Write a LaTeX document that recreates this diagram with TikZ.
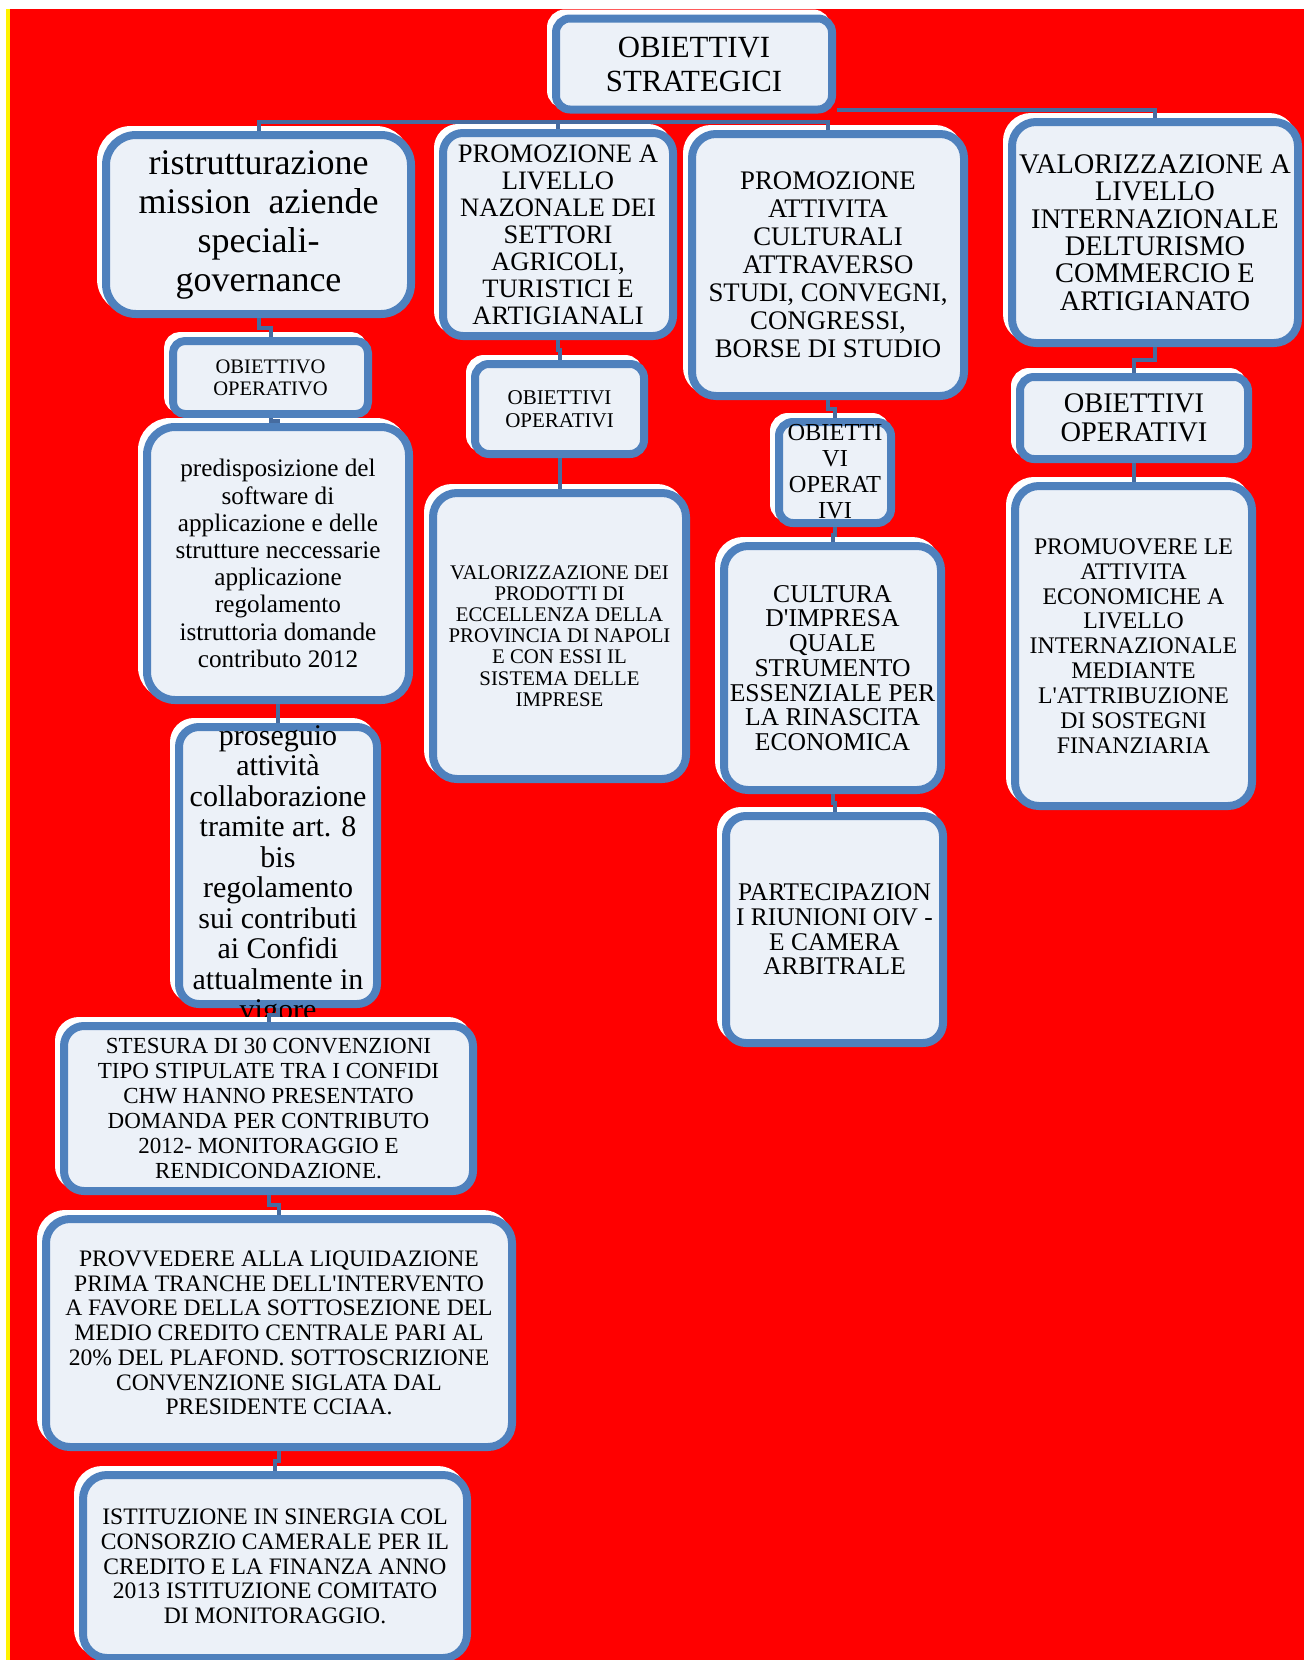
\documentclass[tikz,border=0pt]{standalone}
\usepackage{fontspec}
\setmainfont{Liberation Serif}
\usetikzlibrary{calc}
\definecolor{BoxBlue}{RGB}{79,129,189}
\definecolor{BoxFill}{RGB}{236,241,248}
\definecolor{LinkBlue}{RGB}{70,108,160}

\tikzset{
  obox/.style={draw=BoxBlue,line width=4pt,fill=BoxFill,rounded corners=#1,
    align=center,inner sep=0pt,
    preaction={draw=white,fill=white,line width=4pt,
      transform canvas={shift={(-2.5pt,2.5pt)}}}},
  obox/.default=12pt,
  conn/.style={draw=LinkBlue,line width=2pt},
  elbow/.style={to path={|- ($(\tikztostart)!.5!(\tikztotarget)$) -| (\tikztotarget)}}
}

\begin{document}
\begin{tikzpicture}[x=0.5pt,y=-0.5pt]
  \useasboundingbox (0,0) rectangle (1304,1660);
  \fill[white] (0,0) rectangle (1304,1660);
  \fill[yellow] (6,9) rectangle (10,1660);
  \fill[red] (10,9) rectangle (1304,1660);

  \node[obox=7pt,minimum width=138pt,minimum height=45.5pt,font=\fontsize{15.4}{17}\selectfont]
    (root) at (694,64) {OBIETTIVI\\STRATEGICI};

  % first column
  \node[obox=15pt,minimum width=152.5pt,minimum height=89.5pt,font=\fontsize{18}{19.5}\selectfont]
    (box1) at (258.5,224.5) {ristrutturazione\\mission\ \ aziende\\speciali-\\governance};
  \node[obox=6pt,minimum width=97.5pt,minimum height=36.5pt,font=\fontsize{10.3}{11}\selectfont]
    (op1) at (270.5,377.5) {OBIETTIVO\\OPERATIVO};
  \node[obox=14pt,minimum width=131pt,minimum height=136.5pt,font=\fontsize{12.6}{13.6}\selectfont]
    (pred) at (278,563.5) {predisposizione del\\software di\\applicazione e delle\\strutture neccessarie\\applicazione\\regolamento\\istruttoria domande\\contributo 2012};
  \node[obox=10pt,minimum width=99pt,minimum height=138.5pt,font=\fontsize{15}{15.25}\selectfont]
    (pros) at (278,865.5) {\smash{\raisebox{-9pt}{\begin{tabular}{@{}c@{}}proseguio\\attività\\collaborazione\\tramite art. 8\\bis\\regolamento\\sui contributi\\ai Confidi\\attualmente in\\vigore\end{tabular}}}};
  \node[obox=10pt,minimum width=204.5pt,minimum height=82.5pt,font=\fontsize{11.5}{12.5}\selectfont]
    (stes) at (268.5,1108.5) {STESURA DI 30 CONVENZIONI\\TIPO STIPULATE TRA I CONFIDI\\CHW HANNO PRESENTATO\\DOMANDA PER CONTRIBUTO\\2012- MONITORAGGIO E\\RENDICONDAZIONE.};
  \node[obox=12pt,minimum width=233pt,minimum height=114pt,font=\fontsize{11.8}{12.35}\selectfont]
    (prov) at (279,1333) {PROVVEDERE ALLA LIQUIDAZIONE\\PRIMA TRANCHE DELL\textquotesingle INTERVENTO\\A FAVORE DELLA SOTTOSEZIONE DEL\\MEDIO CREDITO CENTRALE PARI AL\\20\% DEL PLAFOND. SOTTOSCRIZIONE\\CONVENZIONE SIGLATA DAL\\PRESIDENTE CCIAA.};
  \node[obox=12pt,minimum width=192pt,minimum height=91.5pt,font=\fontsize{11.8}{12.35}\selectfont]
    (isti) at (275,1566.5) {ISTITUZIONE IN SINERGIA COL\\CONSORZIO CAMERALE PER IL\\CREDITO E LA FINANZA ANNO\\2013 ISTITUZIONE COMITATO\\DI MONITORAGGIO.};

  % second column
  \node[obox=10pt,minimum width=115pt,minimum height=101.5pt,font=\fontsize{13.3}{13.5}\selectfont]
    (box2) at (558,234.5) {PROMOZIONE A\\LIVELLO\\NAZONALE DEI\\SETTORI\\AGRICOLI,\\TURISTICI E\\ARTIGIANALI};
  \node[obox=7pt,minimum width=84.5pt,minimum height=45pt,font=\fontsize{10.5}{11.6}\selectfont]
    (op2) at (559.5,409) {OBIETTIVI\\OPERATIVI};
  \node[obox=12pt,minimum width=126.5pt,minimum height=143pt,font=\fontsize{10.4}{10.6}\selectfont]
    (val2) at (559.5,636) {VALORIZZAZIONE DEI\\PRODOTTI DI\\ECCELLENZA DELLA\\PROVINCIA DI NAPOLI\\E CON ESSI IL\\SISTEMA DELLE\\IMPRESE};

  % third column
  \node[obox=12pt,minimum width=136pt,minimum height=131pt,font=\fontsize{13.4}{14}\selectfont]
    (box3) at (828,265) {PROMOZIONE\\ATTIVITA\\CULTURALI\\ATTRAVERSO\\STUDI, CONVEGNI,\\CONGRESSI,\\BORSE DI STUDIO};
  \node[obox=7pt,minimum width=56pt,minimum height=50.5pt,font=\fontsize{12.2}{13}\selectfont]
    (op3) at (835,472.5) {\smash{\raisebox{-4pt}{\begin{tabular}{@{}c@{}}OBIETTI\\VI\\OPERAT\\IVI\end{tabular}}}};
  \node[obox=12pt,minimum width=108.5pt,minimum height=122pt,font=\fontsize{12.8}{12.35}\selectfont]
    (cult) at (832.5,668) {CULTURA\\D\textquotesingle IMPRESA\\QUALE\\STRUMENTO\\ESSENZIALE PER\\LA RINASCITA\\ECONOMICA};
  \node[obox=10pt,minimum width=108.5pt,minimum height=113.5pt,font=\fontsize{12.7}{12.35}\selectfont]
    (part) at (834.5,929.5) {PARTECIPAZION\\I RIUNIONI OIV -\\E CAMERA\\ARBITRALE};

  % fourth column
  \node[obox=12pt,minimum width=143pt,minimum height=110.5pt,font=\fontsize{14.2}{13.7}\selectfont]
    (box4) at (1155,232.5) {VALORIZZAZIONE A\\LIVELLO\\INTERNAZIONALE\\DELTURISMO\\COMMERCIO E\\ARTIGIANATO};
  \node[obox=7pt,minimum width=114pt,minimum height=41pt,font=\fontsize{14.2}{14.3}\selectfont]
    (op4) at (1134,418) {OBIETTIVI\\OPERATIVI};
  \node[obox=12pt,minimum width=118.5pt,minimum height=160pt,font=\fontsize{11.9}{12.45}\selectfont]
    (prom) at (1133.5,646) {PROMUOVERE LE\\ATTIVITA\\ECONOMICHE A\\LIVELLO\\INTERNAZIONALE\\MEDIANTE\\L\textquotesingle ATTRIBUZIONE\\DI SOSTEGNI\\FINANZIARIA};

  % connectors
  \coordinate (busL) at (830,122);
  \coordinate (busR) at (837,110);
  \draw[conn] (box1.north) |- (busL);
  \draw[conn] (box2.north) -- (box2.north |- busL);
  \draw[conn] (box3.north) -- (box3.north |- busL);
  \draw[conn] (busR) -| (box4.north);
  \foreach \a/\b in {box1/op1,op1/pred,pred/pros,pros/stes,stes/prov,prov/isti,
      box2/op2,op2/val2,box3/op3,op3/cult,cult/part,box4/op4,op4/prom}
    \draw[conn] (\a.south) to[elbow] (\b.north);
\end{tikzpicture}
\end{document}
